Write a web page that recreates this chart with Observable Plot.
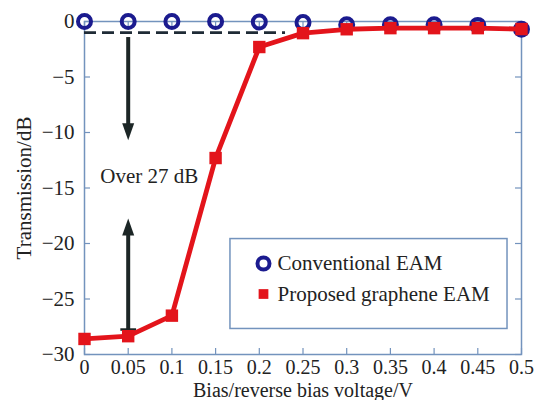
<!DOCTYPE html>
<html><head><meta charset="utf-8">
<script src="https://cdn.jsdelivr.net/npm/d3@7"></script>
<script src="https://cdn.jsdelivr.net/npm/@observablehq/plot@0.6"></script>
<style>body{margin:0;background:#fff}</style>
</head><body><div id="chart"></div>
<script>
const voltages = [0, 0.05, 0.1, 0.15, 0.2, 0.25, 0.3, 0.35, 0.4, 0.45, 0.5];
const conventional = [0, 0, 0, 0, -0.05, -0.1, -0.3, -0.3, -0.3, -0.35, -0.7];
const graphene = [-28.6, -28.35, -26.5, -12.3, -2.3, -1.05, -0.7, -0.6, -0.6, -0.6, -0.68];
const xTicks = [0, 0.05, 0.1, 0.15, 0.2, 0.25, 0.3, 0.35, 0.4, 0.45, 0.5];
const yTicks = [0, -5, -10, -15, -20, -25, -30];
const seriesNames = ["Conventional EAM", "Proposed graphene EAM"];
// annotation values
const dashedLine = {x1: 0, x2: 0.23, y: -1};
const arrowDown = {x: 0.05, y1: -1.4, y2: -9.5, tip: -10.7};
const arrowUp = {x: 0.05, y1: -27.75, y2: -18.8, tip: -17.75};
const annotationText = {x: 0.018, y: -13.9, label: "Over 27 dB"};
const legendBox = {x1: 0.167, x2: 0.484, y1: -19.6, y2: -27.7};
const legendRows = [{x: 0.2048, tx: 0.2208, y: -21.8}, {x: 0.2048, tx: 0.2208, y: -24.55}];

const fmtY = d => d < 0 ? "\u2212" + (-d) : String(d);
const fmtX = d => String(d);

const conv = voltages.map((v, i) => ({x: v, y: conventional[i]}));
const gra = voltages.map((v, i) => ({x: v, y: graphene[i]}));

const frameColor = "#7393bd";
const navy = "#1b1b8f";
const red = "#e3141b";
const dark = "#1c2626";
const FS = 21;

// narrow arrowhead, tip at origin, pointing down
const arrowHead = {
  draw(context, size) {
    const r = Math.sqrt(size / Math.PI);
    const h = 2.6 * r, w = 1.85 * r;
    context.moveTo(0, 0);
    context.lineTo(-w / 2, -h);
    context.lineTo(w / 2, -h);
    context.closePath();
  }
};

const plot = Plot.plot({
  width: 537, height: 400,
  marginLeft: 84, marginRight: 16, marginTop: 21, marginBottom: 46,
  style: {fontFamily: "'Liberation Serif', 'Times New Roman', serif", fontSize: FS + "px", color: "#222", background: "#fff"},
  x: {domain: [0, 0.5]},
  y: {domain: [-30, 0]},
  marks: [
    Plot.frame({stroke: frameColor, strokeWidth: 1.5}),
    // tick marks inside
    Plot.ruleX(xTicks, {x: d => d, y1: -30, y2: -30, insetBottom: 6, stroke: frameColor, strokeWidth: 1.2}),
    Plot.ruleX(xTicks, {x: d => d, y1: 0, y2: 0, insetTop: 6, stroke: frameColor, strokeWidth: 1.2}),
    Plot.ruleY(yTicks, {y: d => d, x1: 0, x2: 0, insetRight: -6, stroke: frameColor, strokeWidth: 1.2}),
    Plot.ruleY(yTicks, {y: d => d, x1: 0.5, x2: 0.5, insetLeft: -6, stroke: frameColor, strokeWidth: 1.2}),
    Plot.axisX({ticks: xTicks, tickSize: 0, tickPadding: 5, tickFormat: fmtX, label: null, fontSize: 20}),
    Plot.axisX({ticks: [], tickSize: 0, label: "Bias/reverse bias voltage/V", labelAnchor: "center", labelOffset: 42, labelArrow: "none", fontSize: 20}),
    Plot.axisY({ticks: yTicks, tickSize: 0, tickPadding: 10, tickFormat: fmtY, label: "Transmission/dB", labelAnchor: "center", labelOffset: 68, labelArrow: "none", fontSize: FS}),
    // dashed reference line
    Plot.ruleY([dashedLine], {y: "y", x1: "x1", x2: "x2", stroke: "#1f2b36", strokeWidth: 2.6, strokeDasharray: "12,6"}),
    // arrows
    Plot.link([arrowDown, arrowUp], {x1: "x", x2: "x", y1: "y1", y2: "y2", stroke: dark, strokeWidth: 4}),
    Plot.dot([arrowDown], {x: "x", y: d => d.tip, symbol: arrowHead, r: 6.5, fill: dark}),
    Plot.dot([arrowUp], {x: "x", y: d => d.tip, symbol: arrowHead, rotate: 180, r: 6.5, fill: dark}),
    Plot.link([arrowUp], {x1: d => d.x - 0.009, x2: d => d.x + 0.009, y1: "y1", y2: "y1", stroke: dark, strokeWidth: 2.5}),
    Plot.text([annotationText], {x: "x", y: "y", text: "label", textAnchor: "start", fontSize: FS, fill: "#222"}),
    // data
    Plot.dot(conv, {x: "x", y: "y", r: 6.5, stroke: navy, strokeWidth: 4, fill: "none"}),
    Plot.line(gra, {x: "x", y: "y", stroke: red, strokeWidth: 4.8}),
    Plot.dot(gra, {x: "x", y: "y", symbol: "square", r: 7, fill: red}),
    // legend
    Plot.rect([legendBox], {x1: "x1", x2: "x2", y1: "y1", y2: "y2", fill: "#fff", stroke: frameColor, strokeWidth: 1.5}),
    Plot.dot([legendRows[0]], {x: "x", y: "y", r: 6, stroke: navy, strokeWidth: 4, fill: "none"}),
    Plot.dot([legendRows[1]], {x: "x", y: "y", symbol: "square", r: 5.5, fill: red}),
    Plot.text(legendRows.map((d, i) => ({...d, label: seriesNames[i]})), {x: "tx", y: "y", text: "label", textAnchor: "start", fontSize: FS, fill: "#222"})
  ]
});
document.getElementById("chart").appendChild(plot);
</script>
</body></html>
